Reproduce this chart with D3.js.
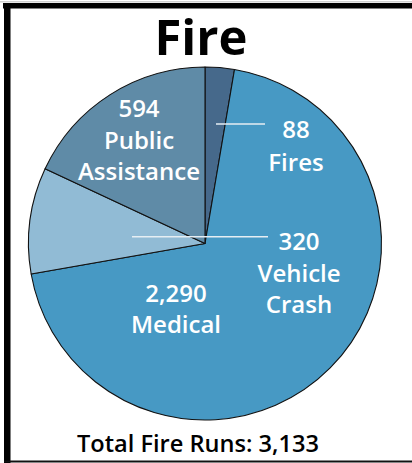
<!DOCTYPE html>
<html>
<head>
<meta charset="utf-8">
<script src="https://cdn.jsdelivr.net/npm/d3@7"></script>
<style>
  html, body { margin: 0; padding: 0; background: #fff; }
  svg { display: block; }
</style>
</head>
<body>
<svg id="chart" width="412" height="463"></svg>
<script>
// ---- data ----
const categories = ["Fires", "Medical", "Vehicle Crash", "Public Assistance"];
const values = [88, 2290, 320, 594];
const colors = ["#46698b", "#4799c4", "#91bbd5", "#5f8ba7"];
const titleText = "Fire";
const totalLabel = "Total Fire Runs:";
const totalValue = 3133;

// ---- layout ----
const W = 412, H = 463;
const cx = 205, cy = 243.5, R = 176.5;
const fmt = d3.format(",");
const svg = d3.select("#chart");

// frame
svg.append("rect").attr("x", 0).attr("y", 1).attr("width", W).attr("height", 1.5).attr("fill", "#cfcfcf");
svg.append("rect").attr("x", 3).attr("y", 3).attr("width", W - 3).attr("height", 5.5).attr("fill", "#000");
svg.append("rect").attr("x", 4).attr("y", 3).attr("width", 6.5).attr("height", H - 3).attr("fill", "#000");
svg.append("rect").attr("x", 4).attr("y", 460.5).attr("width", W - 4).attr("height", 2).attr("fill", "#111");

// title
svg.append("text")
  .attr("x", 201).attr("y", 55)
  .attr("text-anchor", "middle")
  .attr("font-family", "'Open Sans', sans-serif")
  .attr("font-weight", 700)
  .attr("font-size", 49)
  .attr("fill", "#000")
  .text(titleText);

// pie
const pie = d3.pie().sort(null).value(d => d.value);
const arc = d3.arc().innerRadius(0).outerRadius(R);
const data = categories.map((c, i) => ({ category: c, value: values[i], color: colors[i] }));
const arcs = pie(data);

const g = svg.append("g").attr("transform", `translate(${cx},${cy})`);
g.selectAll("path.slice")
  .data(arcs)
  .join("path")
  .attr("class", "slice")
  .attr("d", arc)
  .attr("fill", d => d.data.color)
  .attr("stroke", "#111")
  .attr("stroke-width", 1.1)
  .attr("stroke-linejoin", "round");

// label layout (relative to pie centre): x centre, first baseline, line step
const labelLayout = {
  "Fires":             { x: 91,  y: -105.5, step: 33, line: { x1: 11,  x2: 60, y: -119.5 } },
  "Medical":           { x: -29, y: 58.5,   step: 31 },
  "Vehicle Crash":     { x: 94,  y: 6.5,    step: 31.5, line: { x1: -73, x2: 63, y: -6.8 } },
  "Public Assistance": { x: -66, y: -126.5, step: 31.5 }
};

arcs.forEach(a => {
  const L = labelLayout[a.data.category];
  if (L.line) {
    g.append("line")
      .attr("x1", L.line.x1).attr("x2", L.line.x2)
      .attr("y1", L.line.y).attr("y2", L.line.y)
      .attr("stroke", "#e6eef3")
      .attr("stroke-width", 1.5);
  }
  const lines = [fmt(a.data.value)].concat(a.data.category.split(" "));
  const t = g.append("text")
    .attr("text-anchor", "middle")
    .attr("font-family", "'Open Sans', sans-serif")
    .attr("font-weight", 600)
    .attr("font-size", 24)
    .attr("fill", "#fff");
  lines.forEach((s, i) => {
    t.append("tspan").attr("x", L.x).attr("y", L.y + i * L.step).text(s);
  });
});

// total
svg.append("text")
  .attr("x", 198).attr("y", 452)
  .attr("text-anchor", "middle")
  .attr("font-family", "'Open Sans', sans-serif")
  .attr("font-weight", 600)
  .attr("font-size", 23.6)
  .attr("fill", "#000")
  .text(`${totalLabel} ${fmt(totalValue)}`);
</script>
</body>
</html>
